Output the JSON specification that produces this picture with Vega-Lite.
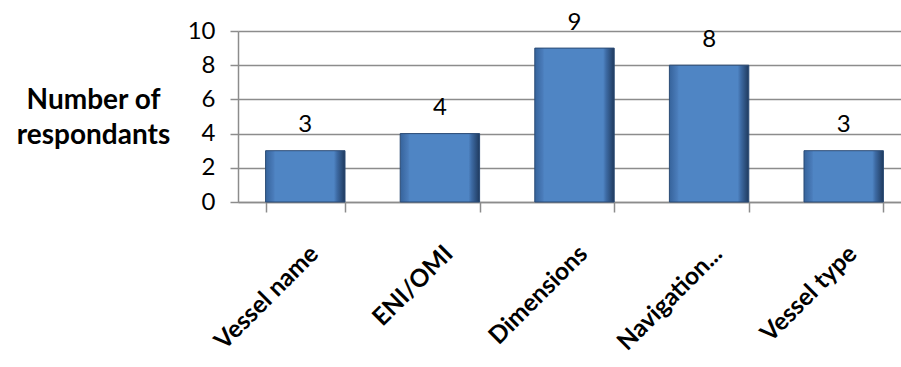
{
  "$schema": "https://vega.github.io/schema/vega-lite/v6.json",
  "width": 673,
  "height": 171,
  "autosize": "none",
  "padding": {"left": 238, "top": 31, "right": 0, "bottom": 165},
  "background": "white",
  "config": {"view": {"stroke": null}, "font": "Lato"},
  "data": {"values": [
    {"item": "Vessel name", "count": 3},
    {"item": "ENI/OMI", "count": 4},
    {"item": "Dimensions", "count": 9},
    {"item": "Navigation...", "count": 8},
    {"item": "Vessel type", "count": 3}
  ]},
  "encoding": {
    "x": {"field": "item", "type": "nominal", "sort": null,
      "scale": {"paddingInner": 0.41, "paddingOuter": 0.205},
      "axis": {"title": null, "labelAngle": -45, "labelAlign": "right", "labelBaseline": "middle",
        "labelFontSize": 24.5, "labelFontWeight": "bold", "labelColor": "black",
        "labelPadding": 38, "labelOffset": 9, "tickSize": 10, "tickBand": "extent", "tickColor": "#8c8c8c",
        "domainColor": "#8c8c8c", "domainWidth": 1.5, "tickWidth": 1.5, "grid": false}},
    "y": {"field": "count", "type": "quantitative", "scale": {"domain": [0, 10]},
      "axis": {"values": [0, 2, 4, 6, 8, 10], "labelFontSize": 24, "labelColor": "black", "labelPadding": 15,
        "tickSize": 8, "tickColor": "#8c8c8c", "tickWidth": 1.5, "domainColor": "#8c8c8c", "domainWidth": 1.5,
        "gridColor": "#8c8c8c", "gridWidth": 1.5,
        "title": ["Number of", "respondants"], "titleAngle": 0, "titleFontWeight": "bold", "titleFontSize": 28,
        "titleColor": "black", "titleAlign": "center", "titleBaseline": "alphabetic",
        "titleX": -145, "titleY": 77, "titleLineHeight": 35}}
  },
  "layer": [
    {"mark": {"type": "bar", "stroke": "#2a4b75", "strokeWidth": 1,
      "color": {"gradient": "linear", "x1": 0, "y1": 0, "x2": 1, "y2": 0,
        "stops": [
          {"offset": 0, "color": "#36639b"},
          {"offset": 0.1, "color": "#4a7cba"},
          {"offset": 0.12, "color": "#4f85c4"},
          {"offset": 0.86, "color": "#4f85c4"},
          {"offset": 0.9, "color": "#3d6aa3"},
          {"offset": 1, "color": "#1f3a5e"}
        ]}}},
    {"mark": {"type": "text", "baseline": "alphabetic", "dy": -18.5, "fontSize": 24, "color": "black"},
      "encoding": {"text": {"field": "count", "type": "quantitative"}}}
  ]
}
